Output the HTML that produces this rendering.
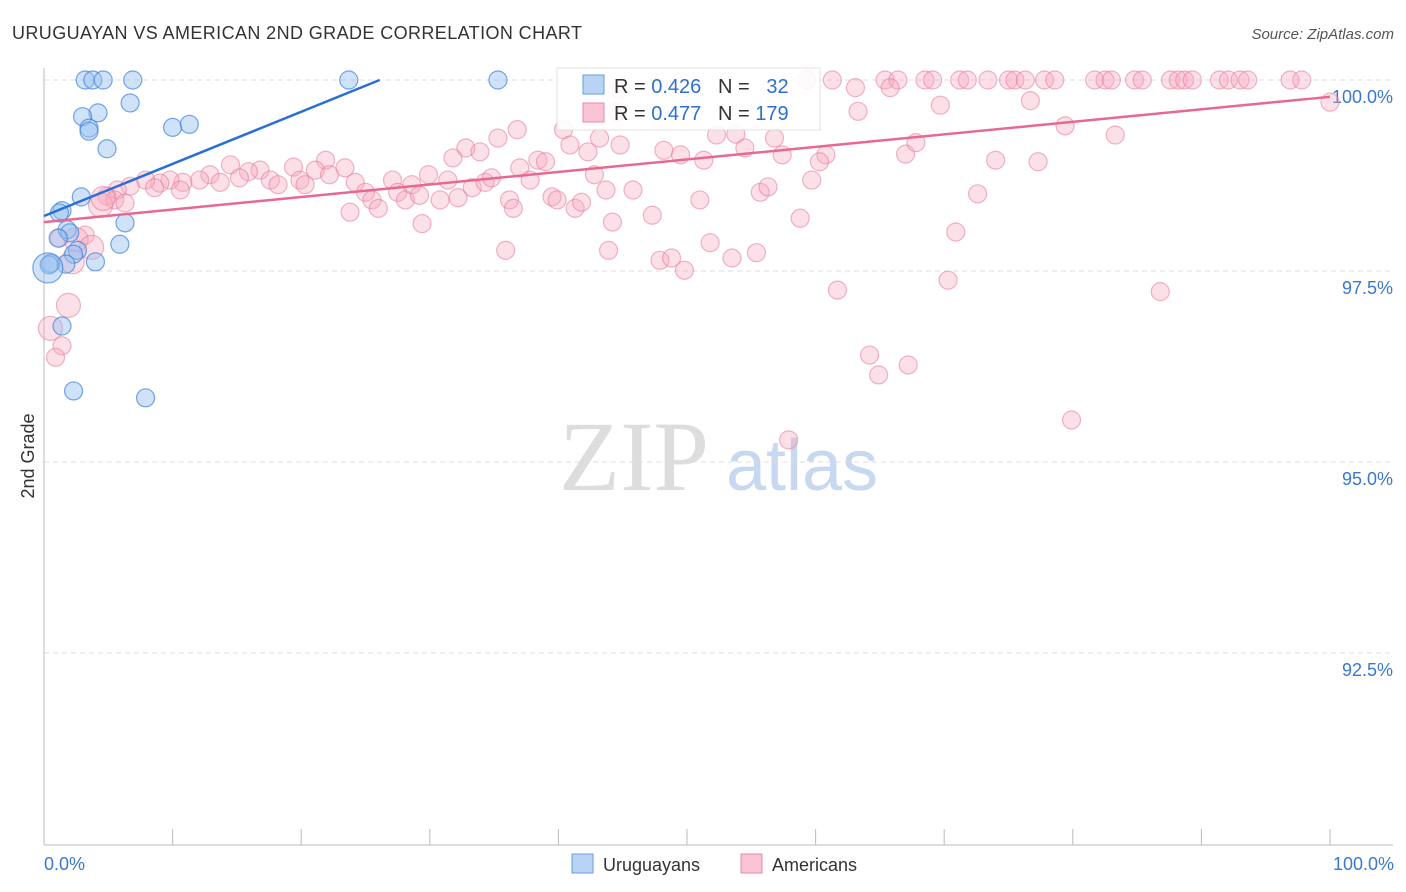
<!DOCTYPE html>
<html><head><meta charset="utf-8"><style>
body{margin:0;background:#fff;font-family:"Liberation Sans",sans-serif;}
svg{display:block}
</style></head><body>
<svg id="chart" width="1406" height="892">
<text x="12" y="39" font-size="18" fill="#333" letter-spacing="0.4">URUGUAYAN VS AMERICAN 2ND GRADE CORRELATION CHART</text>
<text x="1394" y="39" font-size="15" fill="#555" font-style="italic" text-anchor="end">Source: ZipAtlas.com</text>
<text x="634" y="490" font-size="100" fill="#ddd" font-family="Liberation Serif,serif" text-anchor="middle">ZIP</text>
<text x="802" y="490" font-size="72" fill="#c8d8f0" text-anchor="middle">atlas</text>
<g id="grid"></g><g id="axes"></g><g id="pink"></g><g id="blue"></g><g id="trends"></g>
<text x="34" y="456" font-size="18" fill="#333" text-anchor="middle" transform="rotate(-90 34 456)">2nd Grade</text>
<text x="44" y="870" font-size="18" fill="#3a78d0">0.0%</text>
<text x="1394" y="870" font-size="18" fill="#3a78d0" text-anchor="end">100.0%</text>
<g>
<rect x="557" y="68" width="263" height="62" fill="#fff" stroke="#ddd" opacity="0.9"/>
<rect x="583" y="75" width="21" height="19" fill="#b9d3f5" stroke="#6a9de0"/>
<rect x="583" y="103" width="21" height="19" fill="#f9c3d3" stroke="#e88aa8"/>
<text x="614" y="93" font-size="20" fill="#333" xml:space="preserve">R = <tspan fill="#2f6fd0">0.426</tspan>   N =   <tspan fill="#2f6fd0">32</tspan></text>
<text x="614" y="120" font-size="20" fill="#333" xml:space="preserve">R = <tspan fill="#2f6fd0">0.477</tspan>   N = <tspan fill="#2f6fd0">179</tspan></text>
</g>
<g>
<rect x="572" y="854" width="21" height="19" fill="#b9d3f5" stroke="#6a9de0"/>
<text x="603" y="871" font-size="18" fill="#333">Uruguayans</text>
<rect x="741" y="854" width="21" height="19" fill="#f9c3d3" stroke="#e88aa8"/>
<text x="772" y="871" font-size="18" fill="#333">Americans</text>
</g>
</svg>
<script>
const yTicks=[100,97.5,95,92.5];
const yTickLabels=["100.0%","97.5%","95.0%","92.5%"];
const xTicks=[0,10,20,30,40,50,60,70,80,90,100];
const blueX=[3.2,3.8,4.6,6.9,23.7,35.3,6.7,4.2,3.0,3.5,3.5,4.9,10.0,11.3,2.9,1.4,1.2,6.3,1.8,2.0,1.1,5.9,2.6,2.3,1.7,0.5,0.4,1.4,2.3,7.9,4.0];
const blueY=[100,100,100,100,100,100,99.70,99.57,99.52,99.37,99.33,99.10,99.38,99.42,98.47,98.29,98.26,98.13,98.04,98.00,97.93,97.85,97.77,97.72,97.59,97.60,97.58,96.78,95.93,95.84,97.62];
const blueBigX=[0.3];
const blueBigY=[97.54];
const pinkX=[59.3,61.3,65.4,66.4,68.5,69.1,71.2,71.8,73.4,75.0,75.5,76.3,77.8,78.6,81.7,82.5,83.0,84.8,85.4,87.6,88.2,88.7,89.3,91.4,92.1,93.0,93.6,96.9,97.8,
63.1,65.8,44.8,76.7,69.7,63.3,100,44.6,40.4,36.8,43.2,52.3,53.8,56.8,35.3,32.8,33.9,31.8,40.9,42.3,44.8,48.2,49.5,51.3,54.5,57.4,60.8,60.3,67.0,67.8,74.0,77.3,79.4,83.3,
21.9,23.4,19.4,16.8,14.5,15.9,12.9,12.1,10.8,9.8,9.0,7.9,6.7,5.7,4.9,5.5,6.3,8.6,10.6,13.7,15.2,17.6,18.2,19.9,20.3,21.1,22.2,24.2,25.0,25.5,26.0,23.8,27.1,27.5,28.1,28.6,29.2,29.9,30.8,31.4,32.2,33.3,34.3,34.8,36.2,37.0,37.8,38.4,39.0,39.5,39.9,41.3,41.8,42.8,43.7,45.8,44.2,47.3,51.0,55.7,56.3,58.8,59.7,72.6,70.9,36.5,29.4,35.9,43.9,47.9,48.8,49.8,51.8,53.5,55.4,61.7,70.3,86.8,64.2,64.9,67.2,79.9,57.9,
1.2,3.2,1.4,0.9];
const pinkY=[100,100,100,100,100,100,100,100,100,100,100,100,100,100,100,100,100,100,100,100,100,100,100,100,100,100,100,100,100,
99.90,99.90,99.88,99.73,99.67,99.59,99.71,99.58,99.35,99.35,99.24,99.28,99.29,99.24,99.24,99.11,99.06,98.98,99.15,99.06,99.15,99.08,99.02,98.95,99.11,99.02,99.02,98.93,99.03,99.18,98.95,98.93,99.40,99.28,
98.95,98.85,98.86,98.82,98.89,98.80,98.76,98.69,98.66,98.69,98.65,98.69,98.61,98.56,98.48,98.43,98.39,98.59,98.56,98.66,98.72,98.69,98.63,98.69,98.63,98.82,98.76,98.66,98.53,98.43,98.32,98.27,98.69,98.53,98.43,98.63,98.49,98.76,98.43,98.69,98.46,98.59,98.66,98.72,98.43,98.85,98.69,98.95,98.93,98.47,98.43,98.32,98.40,98.76,98.56,98.56,98.14,98.23,98.43,98.53,98.60,98.19,98.69,98.51,98.01,98.32,98.12,97.77,97.77,97.64,97.67,97.51,97.87,97.67,97.74,97.25,97.38,97.23,96.40,96.14,96.27,95.55,95.29,
97.93,97.97,96.52,96.37];
const pinkBigX=[4.4,2.5,3.7,2.2,1.9,0.5,4.6];
const pinkBigY=[98.36,97.91,97.81,97.62,97.05,96.75,98.45];
const blueTrend=[98.22,0.0682];
const pinkTrend=[98.14,0.0164];
const NS='http://www.w3.org/2000/svg';
const X0=44,X1=1330,Y100=80,Y90=844;
const sx=v=>X0+(X1-X0)*v/100;
const sy=v=>Y100+(100-v)*(Y90-Y100)/10;
function mk(tag,attrs,parent){const e=document.createElementNS(NS,tag);for(const k in attrs)e.setAttribute(k,attrs[k]);parent.appendChild(e);return e;}
const grid=document.getElementById('grid'),axes=document.getElementById('axes');
yTicks.forEach((t,i)=>{
 const l=mk('line',{x1:X0,x2:1393,y1:sy(t),y2:sy(t),stroke:'#ddd','stroke-dasharray':'5,4'},grid);
 
 
 const tx=mk('text',{x:1393,y:sy(t)+23,'font-size':18,fill:'#3a78d0','text-anchor':'end'},grid);
 tx.textContent=yTickLabels[i];
 
 
});
let a=mk('line',{x1:X0,x2:X0,y1:68,y2:845,stroke:'#bbb'},axes);


a=mk('line',{x1:X0,x2:1393,y1:845,y2:845,stroke:'#bbb'},axes);


xTicks.forEach(t=>{
 const l=mk('line',{x1:sx(t),x2:sx(t),y1:829,y2:845,stroke:'#bbb'},axes);
 
 
});
function drawPts(xs,ys,r,g,fill,stroke,name){
 xs.forEach((x,i)=>{
  const c=mk('circle',{cx:sx(x),cy:sy(ys[i]),r:r,fill:fill,stroke:stroke,'stroke-width':1.2},g);
  
  
 });
}
const pg=document.getElementById('pink'),bg=document.getElementById('blue');
drawPts(pinkX,pinkY,9,pg,'rgba(245,165,190,0.35)','rgba(230,120,155,0.55)','american-point');
drawPts(pinkBigX,pinkBigY,12,pg,'rgba(245,165,190,0.35)','rgba(230,120,155,0.55)','american-point');
drawPts(blueX,blueY,9,bg,'rgba(150,190,240,0.45)','rgba(60,130,220,0.7)','uruguayan-point');
drawPts(blueBigX,blueBigY,15,bg,'rgba(150,190,240,0.45)','rgba(60,130,220,0.7)','uruguayan-point');
const tr=document.getElementById('trends');
const bxEnd=(100-blueTrend[0])/blueTrend[1];
let t1=mk('line',{x1:sx(0),y1:sy(blueTrend[0]),x2:sx(bxEnd),y2:sy(100),stroke:'#2a6fd6','stroke-width':2.5},tr);


let t2=mk('line',{x1:sx(0),y1:sy(pinkTrend[0]),x2:sx(100),y2:sy(pinkTrend[0]+100*pinkTrend[1]),stroke:'#e8688f','stroke-width':2.5},tr);


</script>
</body></html>
